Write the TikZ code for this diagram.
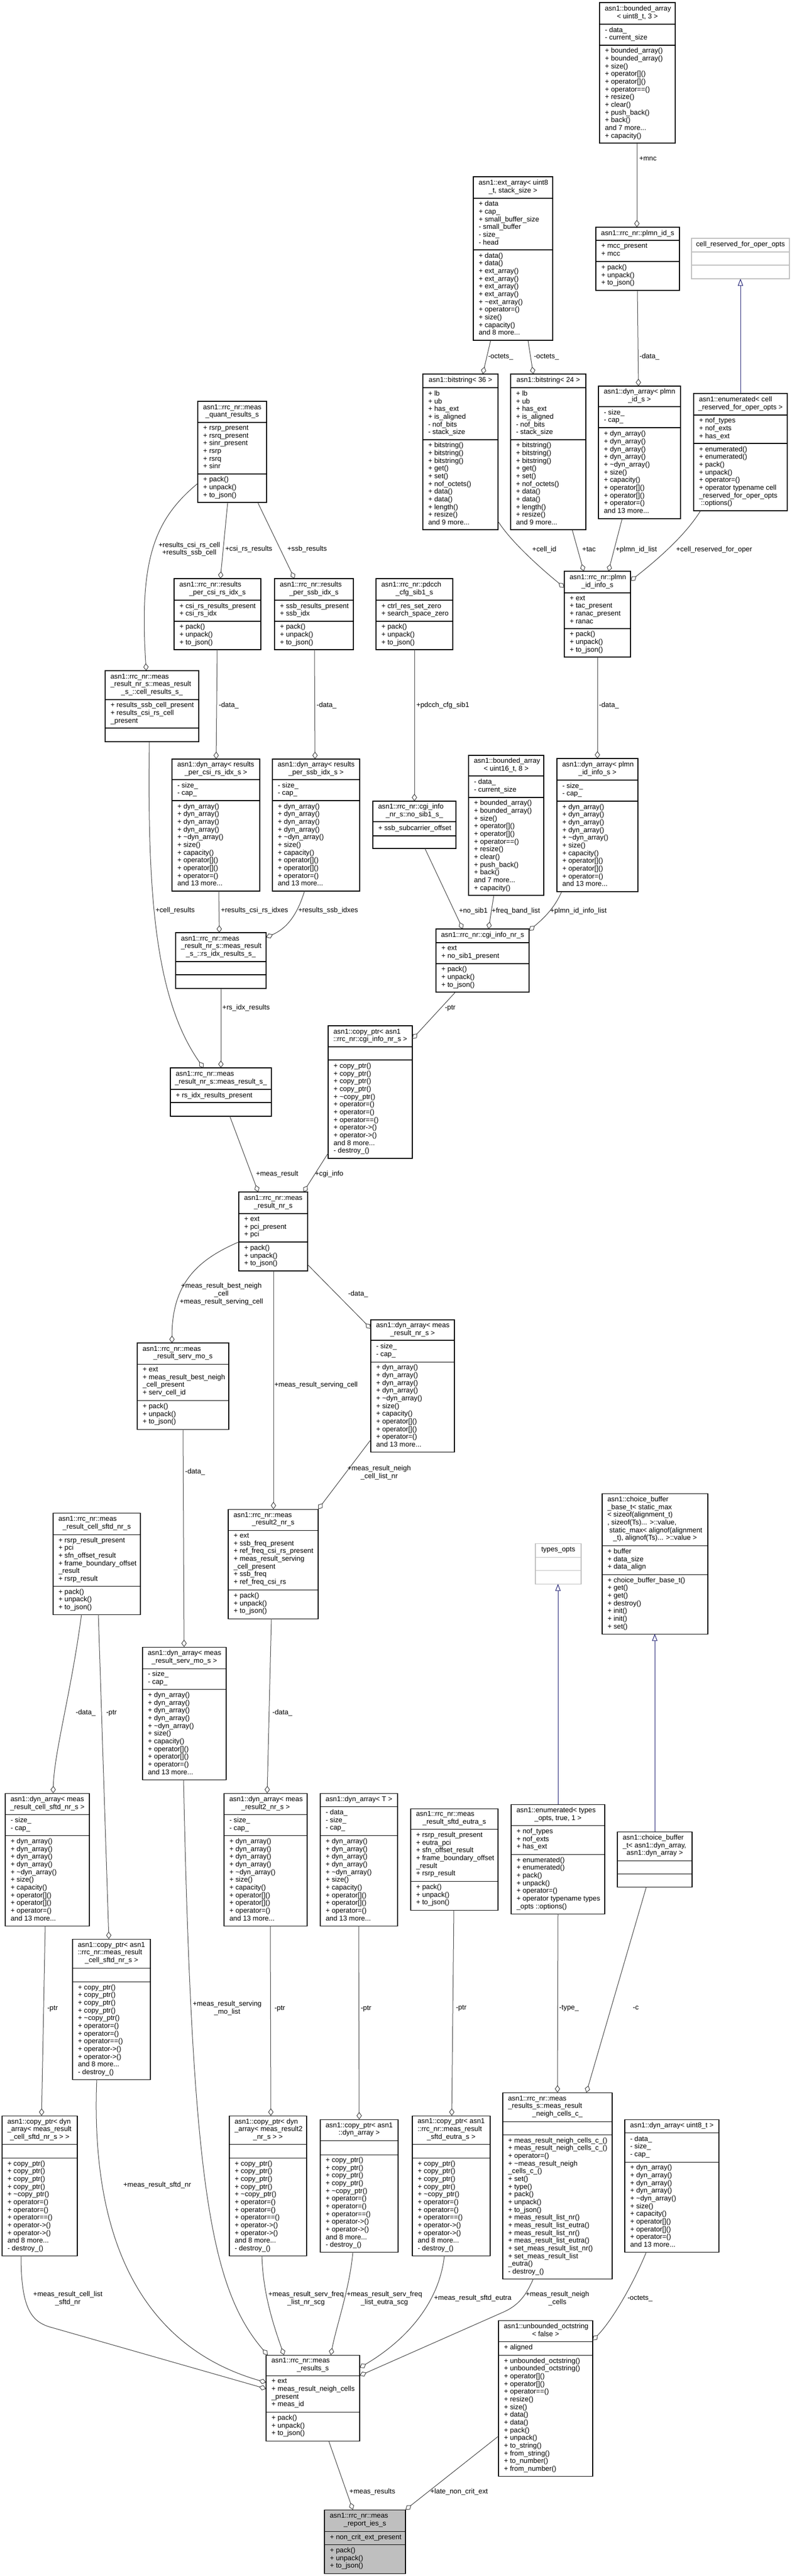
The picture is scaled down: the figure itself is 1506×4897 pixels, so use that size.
\documentclass[tikz,border=0pt]{standalone}
\usepackage{fontspec}
\usetikzlibrary{arrows.meta}

\newfontfamily\dxfamily{Liberation Sans}
\newcommand\dxfont{\dxfamily\fontsize{10}{11}\selectfont}

\definecolor{edgegray}{HTML}{404040}
\definecolor{inhblue}{HTML}{191970}
\definecolor{undocgray}{HTML}{BFBFBF}
\definecolor{rootgray}{HTML}{BFBFBF}

\newcommand\pujs{+ pack()\\+ unpack()\\+ to\_json()}
\newcommand\sizecap{- size\_\\- cap\_}
\newcommand\dynmeth{+ dyn\_array()\\+ dyn\_array()\\+ dyn\_array()\\+ dyn\_array()\\+ \textasciitilde dyn\_array()\\+ size()\\+ capacity()\\+ operator[]()\\+ operator[]()\\+ operator=()\\and 13 more...}
\newcommand\cpmeth{+ copy\_ptr()\\+ copy\_ptr()\\+ copy\_ptr()\\+ copy\_ptr()\\+ \textasciitilde copy\_ptr()\\+ operator=()\\+ operator=()\\+ operator==()\\+ operator->()\\+ operator->()\\and 8 more...\\- destroy\_()}
\newcommand\bameth{+ bounded\_array()\\+ bounded\_array()\\+ size()\\+ operator[]()\\+ operator[]()\\+ operator==()\\+ resize()\\+ clear()\\+ push\_back()\\+ back()\\and 7 more...\\+ capacity()}
\newcommand\bsattr{+ lb\\+ ub\\+ has\_ext\\+ is\_aligned\\- nof\_bits\\- stack\_size}
\newcommand\bsmeth{+ bitstring()\\+ bitstring()\\+ bitstring()\\+ get()\\+ set()\\+ nof\_octets()\\+ data()\\+ data()\\+ length()\\+ resize()\\and 9 more...}

\def\cbparse#1,#2,#3,#4,#5,#6\relax{\def\cbxa{#1}\def\cbxb{#2}\def\cbya{#3}\def\cbyb{#4}\def\cbyc{#5}\def\cbyd{#6}}
\newcommand\tup[1]{\makebox[\cbtw pt][l]{#1}}
\newcommand\tlast[1]{\makebox[\cbtw pt][c]{#1}}
\newcommand\umlclass[6][]{%
  \cbparse#3\relax
  \pgfmathsetmacro\cbw{(\cbxb-\cbxa)*0.75}%
  \pgfmathsetmacro\cbh{(\cbyd-\cbya)*0.75}%
  \pgfmathsetmacro\cbtw{(\cbxb-\cbxa-20)*0.75}%
  \pgfmathsetmacro\cbxm{(\cbxa+\cbxb)/2}%
  \pgfmathsetmacro\cbxl{\cbxa+10}%
  \pgfmathsetmacro\cbyt{(\cbya+\cbyb)/2}%
  \pgfmathsetmacro\cbyat{(\cbyb+\cbyc)/2}%
  \pgfmathsetmacro\cbymt{(\cbyc+\cbyd)/2}%
  \node[cls,#1,minimum width=\cbw pt,minimum height=\cbh pt] (#2) at (\cbxa,\cbya) {};
  \draw[cls sep,#1] (#2.west |- 0,\cbyb) -- (#2.east |- 0,\cbyb)
    (#2.west |- 0,\cbyc) -- (#2.east |- 0,\cbyc);
  \node[member] (#2-t) at (\cbxm,\cbyt) {#4};
  \node[member,anchor=west] (#2-a) at (\cbxl,\cbyat) {#5};
  \node[member,anchor=west] (#2-m) at (\cbxl,\cbymt) {#6};
}

\begin{document}
\begin{tikzpicture}[
      x=0.75pt, y=-0.75pt,
      cls/.style={draw, anchor=north west, inner sep=0pt, outer sep=0pt, line width=0.8pt},
      cls sep/.style={line width=0.8pt},
      undoc/.style={draw=undocgray},
      root/.style={fill=rootgray},
      member/.style={font=\dxfont, inner sep=0pt, align=left, execute at begin node=\strut, execute at end node=\strut},
      lbl/.style={font=\dxfont, inner sep=0pt, align=center, execute at begin node=\strut, execute at end node=\strut},
      dep/.style={draw=edgegray, line width=0.75pt, -{Diamond[open, length=10.5pt, width=7.5pt]}},
      isa/.style={draw=inhblue, line width=0.75pt, -{Triangle[open, length=10pt, width=7.5pt]}}
    ]
      \useasboundingbox (0,0) rectangle (1506,4897);
      \fill[white] (0,0) rectangle (1506,4897);

      \umlclass{ba3}{1140,1284,5,46,86,272}{\tup{asn1::bounded\_array}\\\tlast{< uint8\_t, 3 >}}{- data\_\\- current\_size}{\bameth}
      \umlclass{extarr}{900,1051,336,377,475,647}{\tup{asn1::ext\_array< uint8}\\\tlast{\_t, stack\_size >}}{+ data\\+ cap\_\\+ small\_buffer\_size\\- small\_buffer\\- size\_\\- head}{+ data()\\+ data()\\+ ext\_array()\\+ ext\_array()\\+ ext\_array()\\+ ext\_array()\\+ \textasciitilde ext\_array()\\+ operator=()\\+ size()\\+ capacity()\\and 8 more...}
      \umlclass{plmnid}{1133,1292,432,457,497,552}{\tlast{asn1::rrc\_nr::plmn\_id\_s}}{+ mcc\_present\\+ mcc}{\pujs}
      \umlclass[undoc]{cellres}{1315,1501,453,479,504,530}{\tlast{cell\_reserved\_for\_oper\_opts}}{}{}
      \umlclass{bs36}{804,947,711,737,836,1007}{\tlast{asn1::bitstring< 36 >}}{\bsattr}{\bsmeth}
      \umlclass{bs24}{971,1114,711,737,836,1007}{\tlast{asn1::bitstring< 24 >}}{\bsattr}{\bsmeth}
      \umlclass{dynplmn}{1138,1294,734,773,813,986}{\tup{asn1::dyn\_array< plmn}\\\tlast{\_id\_s >}}{\sizecap}{\dynmeth}
      \umlclass{enumcell}{1319,1497,748,789,843,971}{\tup{asn1::enumerated< cell}\\\tlast{\_reserved\_for\_oper\_opts >}}{+ nof\_types\\+ nof\_exts\\+ has\_ext}{+ enumerated()\\+ enumerated()\\+ pack()\\+ unpack()\\+ operator=()\\+ operator typename cell\\\_reserved\_for\_oper\_opts\\\ ::options()}
      \umlclass{plmninfo}{1073,1199,1086,1127,1195,1249}{\tup{asn1::rrc\_nr::plmn}\\\tlast{\_id\_info\_s}}{+ ext\\+ tac\_present\\+ ranac\_present\\+ ranac}{\pujs}
      \umlclass{mqr}{376,507,763,803,901,955}{\tup{asn1::rrc\_nr::meas}\\\tlast{\_quant\_results\_s}}{+ rsrp\_present\\+ rsrq\_present\\+ sinr\_present\\+ rsrp\\+ rsrq\\+ sinr}{\pujs}
      \umlclass{rpcsi}{331,496,1100,1141,1181,1235}{\tup{asn1::rrc\_nr::results}\\\tlast{\_per\_csi\_rs\_idx\_s}}{+ csi\_rs\_results\_present\\+ csi\_rs\_idx}{\pujs}
      \umlclass{rpssb}{522,672,1100,1141,1181,1235}{\tup{asn1::rrc\_nr::results}\\\tlast{\_per\_ssb\_idx\_s}}{+ ssb\_results\_present\\+ ssb\_idx}{\pujs}
      \umlclass{pdcch}{715,861,1100,1141,1181,1235}{\tup{asn1::rrc\_nr::pdcch}\\\tlast{\_cfg\_sib1\_s}}{+ ctrl\_res\_set\_zero\\+ search\_space\_zero}{\pujs}
      \umlclass{crs}{200,378,1275,1330,1384,1410}{\tup{asn1::rrc\_nr::meas}\\\tup{\_result\_nr\_s::meas\_result}\\\tlast{\_s\_::cell\_results\_s\_}}{+ results\_ssb\_cell\_present\\+ results\_csi\_rs\_cell\\\_present}{}
      \umlclass{dyncsi}{327,494,1443,1482,1522,1694}{\tup{asn1::dyn\_array< results}\\\tlast{\_per\_csi\_rs\_idx\_s >}}{\sizecap}{\dynmeth}
      \umlclass{dynssb}{518,684,1443,1482,1522,1694}{\tup{asn1::dyn\_array< results}\\\tlast{\_per\_ssb\_idx\_s >}}{\sizecap}{\dynmeth}
      \umlclass{nosib1}{709,867,1523,1562,1589,1613}{\tup{asn1::rrc\_nr::cgi\_info}\\\tlast{\_nr\_s::no\_sib1\_s\_}}{+ ssb\_subcarrier\_offset}{}
      \umlclass{ba16}{891,1034,1436,1475,1516,1702}{\tup{asn1::bounded\_array}\\\tlast{< uint16\_t, 8 >}}{- data\_\\- current\_size}{\bameth}
      \umlclass{dynplmninfo}{1059,1213,1442,1483,1523,1695}{\tup{asn1::dyn\_array< plmn}\\\tlast{\_id\_info\_s >}}{\sizecap}{\dynmeth}
      \umlclass{rsidx}{334,506,1773,1828,1853,1879}{\tup{asn1::rrc\_nr::meas}\\\tup{\_result\_nr\_s::meas\_result}\\\tlast{\_s\_::rs\_idx\_results\_s\_}}{}{}
      \umlclass{cgi}{829,1006,1766,1792,1832,1886}{\tlast{asn1::rrc\_nr::cgi\_info\_nr\_s}}{+ ext\\+ no\_sib1\_present}{\pujs}
      \umlclass{mrs}{324,516,2030,2071,2096,2122}{\tup{asn1::rrc\_nr::meas}\\\tlast{\_result\_nr\_s::meas\_result\_s\_}}{+ rs\_idx\_results\_present}{}
      \umlclass{cpcgi}{624,784,1950,1990,2015,2202}{\tup{asn1::copy\_ptr< asn1}\\\tlast{::rrc\_nr::cgi\_info\_nr\_s >}}{}{\cpmeth}
      \umlclass{mrnr}{454,585,2266,2307,2361,2416}{\tup{asn1::rrc\_nr::meas}\\\tlast{\_result\_nr\_s}}{+ ext\\+ pci\_present\\+ pci}{\pujs}
      \umlclass{servmo}{261,435,2553,2593,2662,2717}{\tup{asn1::rrc\_nr::meas}\\\tlast{\_result\_serv\_mo\_s}}{+ ext\\+ meas\_result\_best\_neigh\\\_cell\_present\\+ serv\_cell\_id}{\pujs}
      \umlclass{dynnr}{705,864,2509,2548,2589,2760}{\tup{asn1::dyn\_array< meas}\\\tlast{\_result\_nr\_s >}}{\sizecap}{\dynmeth}
      \umlclass{mr2}{434,605,2869,2909,3022,3077}{\tup{asn1::rrc\_nr::meas}\\\tlast{\_result2\_nr\_s}}{+ ext\\+ ssb\_freq\_present\\+ ref\_freq\_csi\_rs\_present\\+ meas\_result\_serving\\\_cell\_present\\+ ssb\_freq\\+ ref\_freq\_csi\_rs}{\pujs}
      \umlclass{sftdnr}{101,267,2876,2917,3015,3069}{\tup{asn1::rrc\_nr::meas}\\\tlast{\_result\_cell\_sftd\_nr\_s}}{+ rsrp\_result\_present\\+ pci\\+ sfn\_offset\_result\\+ frame\_boundary\_offset\\\_result\\+ rsrp\_result}{\pujs}
      \umlclass{dynservmo}{271,430,3131,3172,3211,3383}{\tup{asn1::dyn\_array< meas}\\\tlast{\_result\_serv\_mo\_s >}}{\sizecap}{\dynmeth}
      \umlclass{choicebase}{1145,1346,2839,2938,2993,3106}{\tup{asn1::choice\_buffer}\\\tup{\_base\_t< static\_max}\\\tup{< sizeof(alignment\_t)}\\\tup{, sizeof(Ts)... >::value,}\\\tup{\ static\_max< alignof(alignment}\\\tlast{\_t), alignof(Ts)... >::value >}}{+ buffer\\+ data\_size\\+ data\_align}{+ choice\_buffer\_base\_t()\\+ get()\\+ get()\\+ destroy()\\+ init()\\+ init()\\+ set()}
      \umlclass[undoc]{typesopts}{1018,1105,2934,2960,2985,3011}{\tlast{types\_opts}}{}{}
      \umlclass{dyncellsftd}{10,170,3409,3449,3489,3661}{\tup{asn1::dyn\_array< meas}\\\tlast{\_result\_cell\_sftd\_nr\_s >}}{\sizecap}{\dynmeth}
      \umlclass{dynmr2}{426,584,3409,3449,3489,3661}{\tup{asn1::dyn\_array< meas}\\\tlast{\_result2\_nr\_s >}}{\sizecap}{\dynmeth}
      \umlclass{dynT}{609,756,3409,3434,3489,3661}{\tlast{asn1::dyn\_array< T >}}{- data\_\\- size\_\\- cap\_}{\dynmeth}
      \umlclass{sftdeutra}{781,947,3438,3477,3576,3631}{\tup{asn1::rrc\_nr::meas}\\\tlast{\_result\_sftd\_eutra\_s}}{+ rsrp\_result\_present\\+ eutra\_pci\\+ sfn\_offset\_result\\+ frame\_boundary\_offset\\\_result\\+ rsrp\_result}{\pujs}
      \umlclass{enumtypes}{972,1150,3430,3470,3525,3638}{\tup{asn1::enumerated< types}\\\tlast{\_opts, true, 1 >}}{+ nof\_types\\+ nof\_exts\\+ has\_ext}{+ enumerated()\\+ enumerated()\\+ pack()\\+ unpack()\\+ operator=()\\+ operator typename types\\\_opts ::options()}
      \umlclass{choicebuf}{1174,1316,3482,3537,3562,3587}{\tup{asn1::choice\_buffer}\\\tup{\_t< asn1::dyn\_array,}\\\tlast{asn1::dyn\_array >}}{}{}
      \umlclass{cpsftdnr}{138,286,3686,3741,3767,3953}{\tup{asn1::copy\_ptr< asn1}\\\tup{::rrc\_nr::meas\_result}\\\tlast{\_cell\_sftd\_nr\_s >}}{}{\cpmeth}
      \umlclass{cpdyncellsftd}{4,147,4022,4076,4102,4288}{\tup{asn1::copy\_ptr< dyn}\\\tup{\_array< meas\_result}\\\tlast{\_cell\_sftd\_nr\_s > >}}{}{\cpmeth}
      \umlclass{cpdynmr2}{436,583,4022,4076,4102,4288}{\tup{asn1::copy\_ptr< dyn}\\\tup{\_array< meas\_result2}\\\tlast{\_nr\_s > >}}{}{\cpmeth}
      \umlclass{cpdyn}{609,757,4029,4069,4096,4281}{\tup{asn1::copy\_ptr< asn1}\\\tlast{::dyn\_array >}}{}{\cpmeth}
      \umlclass{cpeutra}{784,932,4022,4076,4102,4288}{\tup{asn1::copy\_ptr< asn1}\\\tup{::rrc\_nr::meas\_result}\\\tlast{\_sftd\_eutra\_s >}}{}{\cpmeth}
      \umlclass{neighc}{956,1164,3978,4033,4058,4332}{\tup{asn1::rrc\_nr::meas}\\\tup{\_results\_s::meas\_result}\\\tlast{\_neigh\_cells\_c\_}}{}{+ meas\_result\_neigh\_cells\_c\_()\\+ meas\_result\_neigh\_cells\_c\_()\\+ operator=()\\+ \textasciitilde meas\_result\_neigh\\\_cells\_c\_()\\+ set()\\+ type()\\+ pack()\\+ unpack()\\+ to\_json()\\+ meas\_result\_list\_nr()\\+ meas\_result\_list\_eutra()\\+ meas\_result\_list\_nr()\\+ meas\_result\_list\_eutra()\\+ set\_meas\_result\_list\_nr()\\+ set\_meas\_result\_list\\\_eutra()\\- destroy\_()}
      \umlclass{dynu8}{1188,1367,4029,4054,4110,4281}{\tlast{asn1::dyn\_array< uint8\_t >}}{- data\_\\- size\_\\- cap\_}{\dynmeth}
      \umlclass{unbocts}{948,1127,4411,4451,4477,4707}{\tup{asn1::unbounded\_octstring}\\\tlast{< false >}}{+ aligned}{+ unbounded\_octstring()\\+ unbounded\_octstring()\\+ operator[]()\\+ operator[]()\\+ operator==()\\+ resize()\\+ size()\\+ data()\\+ data()\\+ pack()\\+ unpack()\\+ to\_string()\\+ from\_string()\\+ to\_number()\\+ from\_number()}
      \umlclass{msr}{506,684,4477,4516,4585,4640}{\tup{asn1::rrc\_nr::meas}\\\tlast{\_results\_s}}{+ ext\\+ meas\_result\_neigh\_cells\\\_present\\+ meas\_id}{\pujs}
      \umlclass[root]{report}{617,771,4771,4812,4837,4892}{\tup{asn1::rrc\_nr::meas}\\\tlast{\_report\_ies\_s}}{+ non\_crit\_ext\_present}{\pujs}

      \draw[dep] (ba3.south -| 1211,0) -- (plmnid.north -| 1211,0);
      \draw[dep] (extarr.south -| 933,0) -- (bs36.north -| 918,0);
      \draw[dep] (extarr.south -| 1004,0) -- (bs24.north -| 1014,0);
      \draw[dep] (plmnid.south -| 1212,0) -- (dynplmn.north -| 1214,0);
      \draw[isa] (enumcell.north -| 1408,0) -- (cellres.south -| 1408,0);
      \draw[dep] (bs36.east |- 0,991) .. controls (975,1035) and (1040,1090) .. (plmninfo.west |- 0,1117);
      \draw[dep] (bs24.south -| 1088,0) -- (plmninfo.north -| 1110,0);
      \draw[dep] (dynplmn.south -| 1183,0) -- (plmninfo.north -| 1157,0);
      \draw[dep] (enumcell.south -| 1332,0) .. controls (1305,1015) and (1255,1060) .. (plmninfo.east |- 0,1104);
      \draw[dep] (mqr.west |- 0,919) .. controls (290,990) and (265,1070) .. (crs.north -| 278,0);
      \draw[dep] (mqr.south -| 433,0) -- (rpcsi.north -| 419,0);
      \draw[dep] (mqr.south -| 490,0) -- (rpssb.north -| 560,0);
      \draw[dep] (rpcsi.south -| 413,0) -- (dyncsi.north -| 411,0);
      \draw[dep] (rpssb.south -| 598,0) -- (dynssb.north -| 599,0);
      \draw[dep] (pdcch.south -| 788,0) -- (nosib1.north -| 788,0);
      \draw[dep] (plmninfo.south -| 1136,0) -- (dynplmninfo.north -| 1136,0);
      \draw[dep] (nosib1.south -| 808,0) -- (cgi.north -| 880,0);
      \draw[dep] (ba16.south -| 939,0) -- (cgi.north -| 929,0);
      \draw[dep] (dynplmninfo.south -| 1068,0) .. controls (1055,1725) and (1035,1745) .. (cgi.east |- 0,1769);
      \draw[dep] (crs.south -| 284,0) .. controls (280,1700) and (295,1900) .. (mrs.north -| 387,0);
      \draw[dep] (dyncsi.south -| 416,0) -- (rsidx.north -| 417,0);
      \draw[dep] (dynssb.south -| 579,0) .. controls (565,1740) and (545,1765) .. (rsidx.east |- 0,1782);
      \draw[dep] (cgi.south -| 866,0) -- (cpcgi.east |- 0,1975);
      \draw[dep] (rsidx.south -| 420,0) -- (mrs.north -| 420,0);
      \draw[dep] (mrs.south -| 437,0) -- (mrnr.north -| 491,0);
      \draw[dep] (cpcgi.west |- 0,2192) -- (mrnr.north -| 577,0);
      \draw[dep] (mrnr.west |- 0,2361) .. controls (375,2395) and (327,2440) .. (servmo.north -| 327,0);
      \draw[dep] (mrnr.south -| 520,0) -- (mr2.north -| 520,0);
      \draw[dep] (mrnr.east |- 0,2404) .. controls (625,2445) and (680,2500) .. (dynnr.west |- 0,2526);
      \draw[dep] (dynnr.west |- 0,2737) -- (mr2.north east);
      \draw[dep] (servmo.south -| 348,0) -- (dynservmo.north -| 350,0);
      \draw[dep] (sftdnr.south -| 155,0) .. controls (135,3220) and (103,3330) .. (dyncellsftd.north -| 101,0);
      \draw[dep] (sftdnr.south -| 187,0) -- (cpsftdnr.north -| 207,0);
      \draw[dep] (mr2.south -| 516,0) -- (dynmr2.north -| 508,0);
      \draw[isa] (enumtypes.north -| 1061,0) -- (typesopts.south -| 1061,0);
      \draw[isa] (choicebuf.north -| 1245,0) -- (choicebase.south -| 1245,0);
      \draw[dep] (dyncellsftd.south -| 86,0) -- (cpdyncellsftd.north -| 79,0);
      \draw[dep] (dynmr2.south -| 514,0) -- (cpdynmr2.north -| 515,0);
      \draw[dep] (dynT.south -| 682,0) -- (cpdyn.north -| 683,0);
      \draw[dep] (sftdeutra.south -| 863,0) -- (cpeutra.north -| 859,0);
      \draw[dep] (enumtypes.south -| 1061,0) -- (neighc.north -| 1060,0);
      \draw[dep] (choicebuf.south -| 1229,0) -- (neighc.north -| 1115,0);
      \draw[dep] (dynu8.south -| 1229,0) .. controls (1205,4340) and (1165,4410) .. (unbocts.east |- 0,4449);
      \draw[dep] (cpdyncellsftd.south -| 40,0) .. controls (40,4390) and (60,4415) .. (100,4425) -- (msr.west |- 0,4541);
      \draw[dep] (cpsftdnr.south -| 184,0) .. controls (170,4300) and (300,4470) .. (msr.west |- 0,4529);
      \draw[dep] (dynservmo.south -| 349,0) .. controls (365,4150) and (400,4350) .. (msr.north -| 509,0);
      \draw[dep] (cpdynmr2.south -| 498,0) .. controls (500,4360) and (520,4420) .. (msr.north -| 540,0);
      \draw[dep] (cpdyn.south -| 671,0) .. controls (665,4350) and (640,4420) .. (msr.north -| 629,0);
      \draw[dep] (cpeutra.south -| 845,0) .. controls (835,4380) and (770,4450) .. (msr.east |- 0,4501);
      \draw[dep] (neighc.south -| 1014,0) .. controls (1000,4365) and (985,4382) .. (960,4394) -- (msr.east |- 0,4516);
      \draw[dep] (msr.south -| 625,0) -- (report.north -| 671,0);
      \draw[dep] (unbocts.west |- 0,4631) -- (report.north east);

      \node[lbl] (lmnc) at (1232,303) {+mnc};
      \node[lbl] (loct1) at (952,679) {-octets\_};
      \node[lbl] (loct2) at (1039,679) {-octets\_};
      \node[lbl] (ldata1) at (1235,679) {-data\_};
      \node[lbl] (lcellid) at (1035,1046) {+cell\_id};
      \node[lbl] (ltac) at (1120,1046) {+tac};
      \node[lbl] (lplmnlist) at (1210,1046) {+plmn\_id\_list};
      \node[lbl] (lcellres) at (1358,1046) {+cell\_reserved\_for\_oper};
      \node[lbl] (lrescell) at (360,1045) {+results\_csi\_rs\_cell\\+results\_ssb\_cell};
      \node[lbl] (lcsires) at (473,1045) {+csi\_rs\_results};
      \node[lbl] (lssbres) at (584,1045) {+ssb\_results};
      \node[lbl] (ldata2) at (435,1342) {-data\_};
      \node[lbl] (ldata3) at (621,1342) {-data\_};
      \node[lbl] (lpdcch) at (842,1342) {+pdcch\_cfg\_sib1};
      \node[lbl] (ldata4) at (1158,1342) {-data\_};
      \node[lbl] (lnosib1) at (900,1733) {+no\_sib1};
      \node[lbl] (lfreq) at (981,1733) {+freq\_band\_list};
      \node[lbl] (lplmninfo) at (1100,1733) {+plmn\_id\_info\_list};
      \node[lbl] (lptr1) at (856,1917) {-ptr};
      \node[lbl] (lcellresults) at (333,1732) {+cell\_results};
      \node[lbl] (lcsiidx) at (484,1732) {+results\_csi\_rs\_idxes};
      \node[lbl] (lssbidx) at (624,1732) {+results\_ssb\_idxes};
      \node[lbl] (lrsidx) at (468,1917) {+rs\_idx\_results};
      \node[lbl] (lmeasres) at (527,2233) {+meas\_result};
      \node[lbl] (lcgiinfo) at (626,2233) {+cgi\_info};
      \node[lbl] (lbest) at (421,2461) {+meas\_result\_best\_neigh\\\_cell\\+meas\_result\_serving\_cell};
      \node[lbl] (ldata5) at (681,2461) {-data\_};
      \node[lbl] (lserving) at (601,2634) {+meas\_result\_serving\_cell};
      \node[lbl] (lneighlist) at (721,2800) {+meas\_result\_neigh\\\_cell\_list\_nr};
      \node[lbl] (ldata6) at (371,2799) {-data\_};
      \node[lbl] (ldata7) at (163,3257) {-data\_};
      \node[lbl] (lptr2) at (212,3257) {-ptr};
      \node[lbl] (ldata8) at (537,3257) {-data\_};
      \node[lbl] (lptr3) at (100,3819) {-ptr};
      \node[lbl] (lservmolist) at (432,3818) {+meas\_result\_serving\\\_mo\_list};
      \node[lbl] (lptr4) at (532,3819) {-ptr};
      \node[lbl] (lptr5) at (696,3819) {-ptr};
      \node[lbl] (lptr6) at (877,3818) {-ptr};
      \node[lbl] (ltype) at (1082,3818) {-type\_};
      \node[lbl] (lc) at (1209,3818) {-c};
      \node[lbl] (lcelllist) at (129,4370) {+meas\_result\_cell\_list\\\_sftd\_nr};
      \node[lbl] (lsftdnr) at (299,4155) {+meas\_result\_sftd\_nr};
      \node[lbl] (lnrscg) at (582,4370) {+meas\_result\_serv\_freq\\\_list\_nr\_scg};
      \node[lbl] (leutrascg) at (731,4370) {+meas\_result\_serv\_freq\\\_list\_eutra\_scg};
      \node[lbl] (lsftdeutra) at (899,4370) {+meas\_result\_sftd\_eutra};
      \node[lbl] (lneighcells) at (1060,4370) {+meas\_result\_neigh\\\_cells};
      \node[lbl] (loct3) at (1217,4370) {-octets\_};
      \node[lbl] (lmeasresults) at (708,4738) {+meas\_results};
      \node[lbl] (llate) at (873,4738) {+late\_non\_crit\_ext};
\end{tikzpicture}
\end{document}
